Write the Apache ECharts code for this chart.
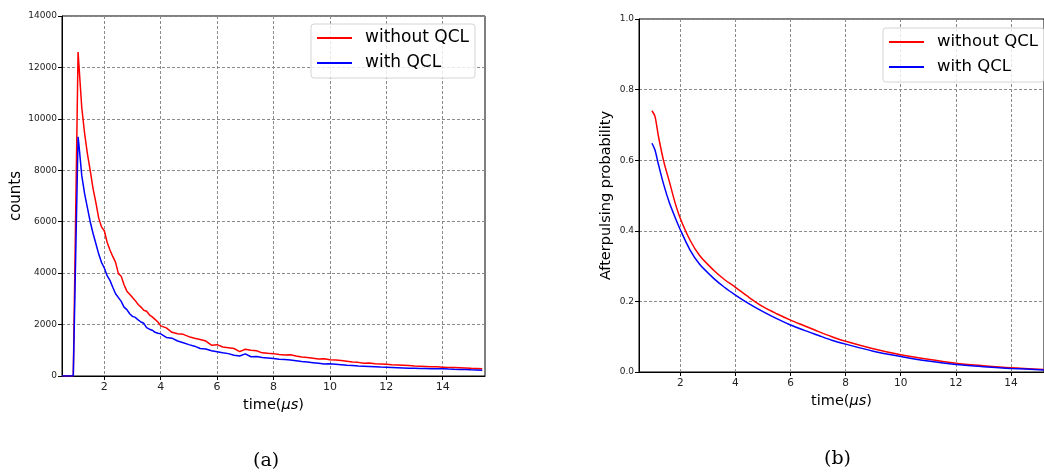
<!DOCTYPE html>
<html>
<head>
<meta charset="utf-8">
<script src="https://cdn.jsdelivr.net/npm/echarts@6/dist/echarts.min.js"></script>
<style>
html,body{margin:0;padding:0;background:#fff;}
#c{width:1044px;height:476px;}
</style>
</head>
<body>
<div id="c"></div>
<script>
// ---- Data (a): counts vs time (µs)
const timeA = [0.5,0.9,1.07,1.1,1.2,1.3,1.4,1.5,1.6,1.7,1.8,1.9,2.0,2.1,2.2,2.3,2.4,2.5,2.6,2.7,2.8,2.9,3.0,3.1,3.2,3.3,3.4,3.5,3.6,3.7,3.8,3.9,4.0,
  4.2,4.4,4.6,4.8,5.0,5.2,5.4,5.6,5.8,6.0,6.2,6.4,6.6,6.8,7.0,7.2,7.4,7.6,7.8,8.0,8.2,8.4,8.6,8.8,9.0,9.2,9.4,9.6,9.8,10.0,
  10.2,10.4,10.6,10.8,11.0,11.2,11.4,11.6,11.8,12.0,12.2,12.4,12.6,12.8,13.0,13.2,13.4,13.6,13.8,14.0,14.2,14.4,14.6,14.8,15.0,15.2,15.4];
const countsNoQCL = [0,0,12600,12100,10450,9450,8650,8000,7300,6750,6150,5800,5650,5200,4900,4650,4420,3980,3880,3550,3300,3180,3050,2930,2780,2680,2560,2520,2380,2300,2200,2100,1950,
  1870,1700,1640,1620,1530,1470,1420,1360,1200,1220,1130,1100,1070,950,1040,1000,980,900,880,870,840,820,830,780,740,720,690,660,670,630,
  620,600,570,540,530,500,510,480,470,455,440,430,420,410,390,380,370,360,355,345,330,330,320,310,300,295,285];
const countsQCL = [0,0,9300,9000,7800,7100,6550,6000,5550,5150,4750,4420,4200,3900,3720,3450,3200,3050,2900,2680,2580,2420,2320,2280,2180,2100,2050,1880,1820,1780,1700,1660,1640,
  1500,1470,1360,1290,1220,1160,1070,1050,980,940,900,870,810,780,860,750,760,720,700,680,650,640,620,590,560,540,520,500,470,480,
  460,440,420,410,390,380,370,360,350,345,335,325,315,305,300,295,290,285,280,285,270,260,255,250,240,235,225];

// ---- Data (b): afterpulsing probability vs time (µs)
const timeB = [0.97,1.08,1.2,1.4,1.6,1.8,2.0,2.35,2.7,3.2,3.6,4.0,4.5,5.0,5.5,6.0,6.5,7.0,7.5,8.0,9.0,10.0,11.0,12.0,13.0,14.0,15.2];
const probNoQCL = [0.740,0.724,0.670,0.596,0.540,0.482,0.435,0.374,0.330,0.289,0.262,0.240,0.211,0.185,0.165,0.147,0.131,0.115,0.100,0.087,0.066,0.049,0.036,0.025,0.018,0.012,0.007];
const probQCL   = [0.648,0.629,0.590,0.530,0.480,0.440,0.403,0.346,0.305,0.266,0.240,0.218,0.193,0.171,0.151,0.133,0.118,0.104,0.090,0.079,0.059,0.044,0.031,0.021,0.015,0.010,0.006];

// ---- Tick labels
const xTicks = [2,4,6,8,10,12,14];
const seriesNames = ['without QCL','with QCL'];

const pairs = (xs, ys) => xs.map((x, i) => [x, ys[i]]);
const FONT = 'DejaVu Sans';
const grid = '#8a8a8a';

function xAxis(gridIndex, max, labelSize, nameGap) {
  return {
    type: 'value', gridIndex, min: 0.5, max,
    name: 'time({i|μs})', nameLocation: 'middle', nameGap,
    nameTextStyle: {fontFamily: FONT, fontSize: 14.5, color: '#000',
      rich: {i: {fontFamily: FONT, fontSize: 14.5, fontStyle: 'italic', color: '#000'}}},
    axisLine: {show: true, onZero: false, lineStyle: {color: '#000', width: 1}},
    axisTick: {show: true, length: 4, customValues: xTicks, lineStyle: {color: '#000'}},
    axisLabel: {customValues: xTicks, fontFamily: FONT, fontSize: labelSize, color: '#222', margin: 6},
    splitLine: {show: true, lineStyle: {color: grid, type: [3, 2], width: 1}}
  };
}
function yAxis(gridIndex, max, interval, name, nameGap, nameSize, fmt) {
  return {
    type: 'value', gridIndex, min: 0, max, interval,
    name, nameLocation: 'middle', nameGap,
    nameTextStyle: {fontFamily: FONT, fontSize: nameSize, color: '#000'},
    axisLine: {show: true, lineStyle: {color: '#000', width: 1}},
    axisTick: {show: true, length: 4, lineStyle: {color: '#000'}},
    axisLabel: {fontFamily: FONT, fontSize: 9, color: '#222', margin: 5, formatter: fmt},
    splitLine: {show: true, lineStyle: {color: grid, type: [3, 2], width: 1}}
  };
}
function legend(left, top, fontSize) {
  return {
    data: seriesNames, orient: 'vertical', left, top,
    icon: 'rect', itemWidth: 35, itemHeight: 2, itemGap: 5,
    textStyle: {fontFamily: FONT, fontSize, color: '#000', lineHeight: 20, padding: [0, 0, 0, 8]},
    backgroundColor: 'rgba(255,255,255,0.8)', borderColor: '#d4d4d4', borderWidth: 1, borderRadius: 3,
    padding: [4, 6, 5, 6], selectedMode: false
  };
}
function line(name, xi, data, color) {
  return {name, type: 'line', xAxisIndex: xi, yAxisIndex: xi, data, showSymbol: false, symbol: 'none',
    lineStyle: {color, width: 1.5}, itemStyle: {color}, animation: false, z: 3};
}

const chart = echarts.init(document.getElementById('c'), null, {renderer: 'canvas'});
chart.setOption({
  animation: false,
  backgroundColor: '#fff',
  grid: [
    {left: 62, top: 16, width: 423, height: 360, show: true, borderColor: '#000', borderWidth: 1, backgroundColor: 'transparent'},
    {left: 639, top: 19, width: 406, height: 353, show: true, borderColor: '#000', borderWidth: 1, backgroundColor: 'transparent'}
  ],
  xAxis: [xAxis(0, 15.5, 11, 21), xAxis(1, 15.2, 10.5, 19)],
  yAxis: [
    yAxis(0, 14000, 2000, 'counts', 38, 15, v => String(v)),
    yAxis(1, 1, 0.2, 'Afterpulsing probability', 25, 14.5, v => v.toFixed(1))
  ],
  legend: [legend(311, 24, 17), legend(883, 28, 16.5)],
  series: [
    line(seriesNames[0], 0, pairs(timeA, countsNoQCL), '#ff0000'),
    line(seriesNames[1], 0, pairs(timeA, countsQCL), '#0000ff'),
    Object.assign(line(seriesNames[0], 1, pairs(timeB, probNoQCL), '#ff0000'), {smooth: 0.3}),
    Object.assign(line(seriesNames[1], 1, pairs(timeB, probQCL), '#0000ff'), {smooth: 0.3})
  ],
  graphic: [
    {type: 'text', left: 253, top: 452, style: {text: '(a)', fontFamily: 'DejaVu Serif', fontSize: 19, fill: '#000'}},
    {type: 'text', left: 824, top: 450, style: {text: '(b)', fontFamily: 'DejaVu Serif', fontSize: 19, fill: '#000'}}
  ]
});
</script>
</body>
</html>
